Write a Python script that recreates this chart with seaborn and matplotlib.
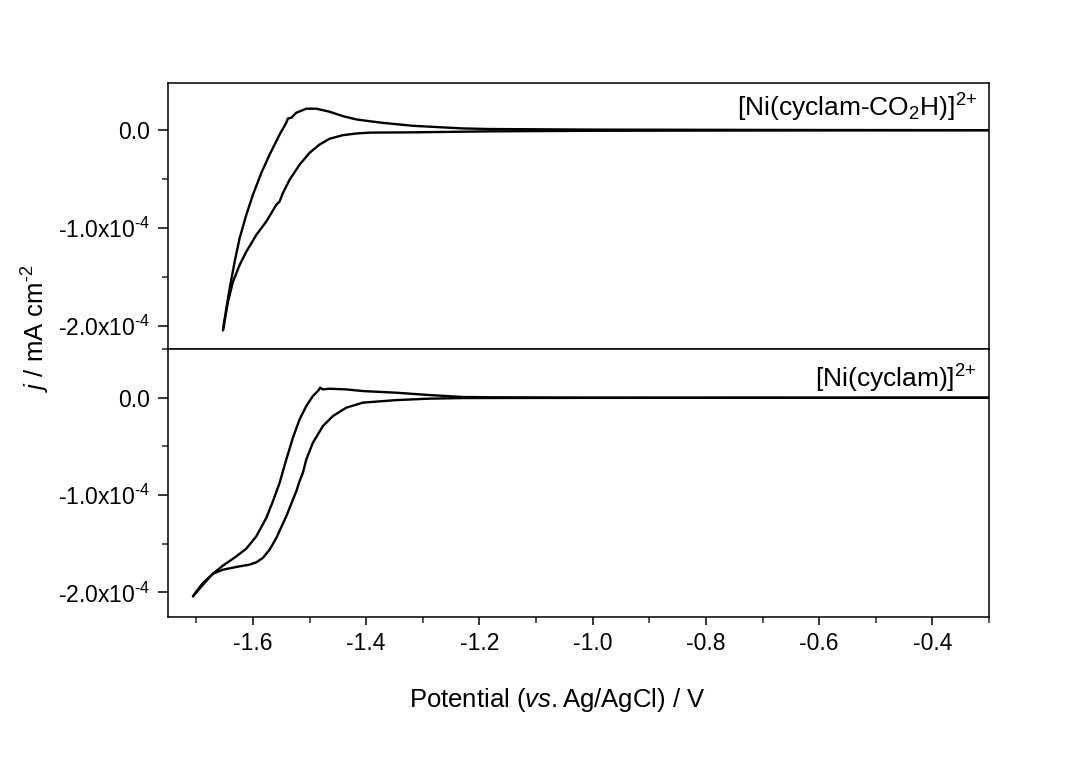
import numpy as np
import pandas as pd
import matplotlib
matplotlib.use("Agg")
import matplotlib.pyplot as plt
import seaborn as sns
from matplotlib.ticker import MultipleLocator, FuncFormatter

# ---------------- data (potential in V vs Ag/AgCl, current density in 1e-4 mA cm^-2) -------------
SCALE = 1e-4

# [Ni(cyclam-CO2H)]2+  (top panel)
top_upper_v = [-1.6529, -1.6470, -1.6411, -1.6323, -1.6235, -1.6117, -1.6000, -1.5852, -1.5705,
               -1.5529, -1.5411, -1.5382, -1.5322, -1.5234, -1.5058, -1.4881, -1.4647, -1.4412,
               -1.4175, -1.3941, -1.3706, -1.3176, -1.2294, -1.1823, -1.0, -0.6, -0.3]
top_upper_j = [-2.048, -1.825, -1.620, -1.346, -1.106, -0.866, -0.661, -0.438, -0.250,
               -0.044, 0.076, 0.120, 0.127, 0.179, 0.220, 0.220, 0.189, 0.144,
               0.110, 0.092, 0.075, 0.045, 0.018, 0.012, 0.006, 0.002, 0.0]
top_lower_v = [-1.6529, -1.6441, -1.6353, -1.6235, -1.6117, -1.5940, -1.5764, -1.5587, -1.5529,
               -1.5471, -1.5352, -1.5176, -1.5000, -1.4823, -1.4647, -1.4412, -1.4175, -1.3941,
               -1.3176, -1.1823, -1.0, -0.6, -0.3]
top_lower_j = [-2.048, -1.757, -1.552, -1.380, -1.244, -1.072, -0.935, -0.764, -0.730,
               -0.643, -0.507, -0.353, -0.232, -0.147, -0.088, -0.051, -0.034, -0.025,
               -0.022, -0.012, -0.006, -0.002, 0.0]

# [Ni(cyclam)]2+  (bottom panel)
bot_upper_v = [-1.7059, -1.6999, -1.6882, -1.6706, -1.6529, -1.6293, -1.6116, -1.5940, -1.5764,
               -1.5647, -1.5529, -1.5411, -1.5294, -1.5176, -1.5058, -1.4941, -1.4853, -1.4811,
               -1.4765, -1.4647, -1.4352, -1.4059, -1.3471, -1.2882, -1.2294, -1.1823, -1.0, -0.3]
bot_upper_j = [-2.041, -1.990, -1.903, -1.808, -1.725, -1.630, -1.550, -1.424, -1.235,
               -1.064, -0.875, -0.635, -0.412, -0.223, -0.086, 0.017, 0.068, 0.103,
               0.085, 0.092, 0.085, 0.068, 0.051, 0.027, 0.007, 0.004, 0.0, 0.0]
bot_lower_v = [-1.7059, -1.6882, -1.6706, -1.6529, -1.6293, -1.6058, -1.5940, -1.5824, -1.5705,
               -1.5587, -1.5411, -1.5234, -1.5176, -1.5118, -1.5058, -1.4941, -1.4765, -1.4588,
               -1.4352, -1.4059, -1.3471, -1.2882, -1.2294, -1.0, -0.3]
bot_lower_j = [-2.041, -1.921, -1.808, -1.767, -1.739, -1.715, -1.691, -1.646, -1.561,
               -1.441, -1.218, -0.961, -0.857, -0.772, -0.635, -0.463, -0.292, -0.189,
               -0.103, -0.051, -0.025, -0.010, -0.004, -0.002, 0.0]

x_ticks = [-1.6, -1.4, -1.2, -1.0, -0.8, -0.6, -0.4]
y_ticks = [0.0, -1.0, -2.0]
labels = [r"[Ni(cyclam-CO$_2$H)]$^{2{+}}$", r"[Ni(cyclam)]$^{2{+}}$"]


def frame(v_up, j_up, v_lo, j_lo):
    parts = []
    for name, v, j in (("upper", v_up, j_up), ("lower", v_lo, j_lo)):
        parts.append(pd.DataFrame({"E": v, "j": np.array(j) * SCALE, "branch": name}))
    return pd.concat(parts, ignore_index=True)


df_top = frame(top_upper_v, top_upper_j, top_lower_v, top_lower_j)
df_bot = frame(bot_upper_v, bot_upper_j, bot_lower_v, bot_lower_j)

# ---------------- style ----------------
sns.set_theme(style="ticks")
plt.rcParams["font.family"] = ["Liberation Sans", "DejaVu Sans"]
plt.rcParams["mathtext.fontset"] = "custom"
plt.rcParams["mathtext.rm"] = "Liberation Sans"
plt.rcParams["mathtext.it"] = "Liberation Sans:italic"
plt.rcParams["axes.linewidth"] = 1.1
plt.rcParams["text.color"] = "black"

fig = plt.figure(figsize=(10.82, 7.66), dpi=100)
fig.patch.set_facecolor("white")
left, width = 168 / 1082, (989 - 168) / 1082
ax_top = fig.add_axes([left, 1 - 349 / 766, width, (349 - 83.3) / 766])
ax_bot = fig.add_axes([left, 1 - 616.7 / 766, width, (616.7 - 349) / 766], sharex=ax_top)


def yfmt(val, pos):
    m = val / SCALE
    if abs(m) < 1e-9:
        return "0.0"
    return f"{m:.1f}x10" + r"$^{\text{-}4}$"


for ax, df, lab, ylim, ty in ((ax_top, df_top, labels[0], (-2.24e-4, 0.48e-4), 0.875),
                             (ax_bot, df_bot, labels[1], (-2.25e-4, 0.50e-4), 0.855)):
    sns.lineplot(data=df, x="E", y="j", units="branch", estimator=None, sort=False,
                 color="black", linewidth=1.7, ax=ax, legend=False)
    ax.set_xlim(-1.75, -0.3)
    ax.set_ylim(*ylim)
    ax.set_yticks(np.array(y_ticks) * SCALE)
    ax.yaxis.set_minor_locator(MultipleLocator(0.5 * SCALE))
    ax.yaxis.set_major_formatter(FuncFormatter(yfmt))
    ax.set_xlabel("")
    ax.set_ylabel("")
    ax.tick_params(axis="y", which="major", direction="out", length=7, width=1.1,
                   labelsize=16.5, pad=6, colors="black")
    ax.tick_params(axis="y", which="minor", direction="out", length=4, width=1.1)
    for s in ax.spines.values():
        s.set_visible(True)
        s.set_color("black")
    ax.text(0.985, ty, lab, transform=ax.transAxes, ha="right", va="baseline",
            fontsize=19, color="black")
    ax.set_facecolor("white")

ax_bot.set_xticks(x_ticks)
ax_bot.xaxis.set_minor_locator(MultipleLocator(0.1))
ax_bot.xaxis.set_major_formatter(FuncFormatter(lambda v, p: f"{v:.1f}"))
ax_bot.tick_params(axis="x", which="major", direction="out", length=6, width=1.1,
                   labelsize=16.5, pad=5, colors="black")
ax_bot.tick_params(axis="x", which="minor", direction="out", length=4, width=1.1)
ax_top.tick_params(axis="x", which="both", bottom=False, labelbottom=False)

fig.text(557 / 1082, 1 - 700 / 766, r"Potential ($vs.$Ag/AgCl) / V", ha="center", va="center",
         fontsize=18.5, color="black")
fig.text(36 / 1082, 1 - 328 / 766, r"$j$ / mA cm$^{\text{-}2}$", ha="center", va="center",
         rotation=90, fontsize=18.5, color="black")

fig.savefig("out.png", dpi=100, facecolor="white")
